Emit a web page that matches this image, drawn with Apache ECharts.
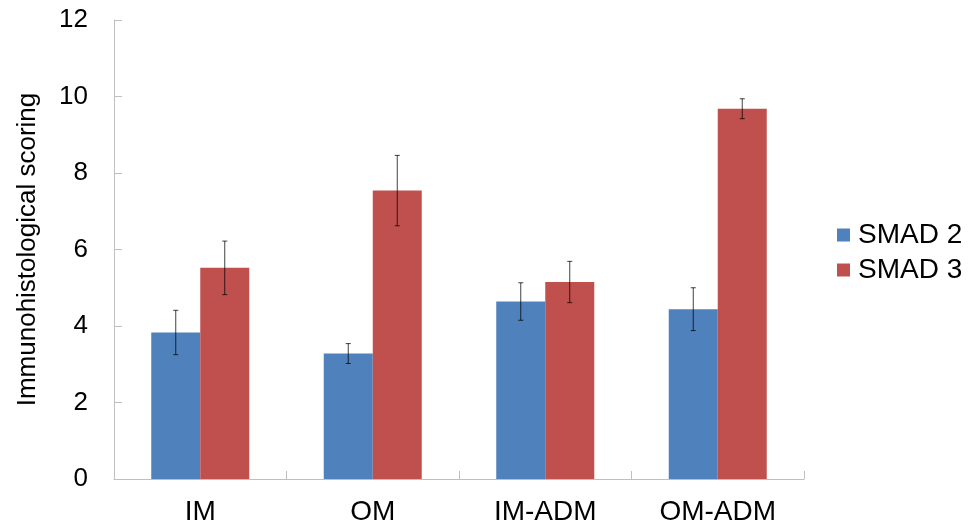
<!DOCTYPE html>
<html>
<head>
<meta charset="utf-8">
<script src="https://cdn.jsdelivr.net/npm/echarts@6/dist/echarts.min.js"></script>
<style>
html,body{margin:0;padding:0;background:#fff;}
#chart{width:974px;height:529px;}
</style>
</head>
<body>
<div id="chart"></div>
<script>
var categories = ['IM', 'OM', 'IM-ADM', 'OM-ADM'];
var seriesNames = ['SMAD 2', 'SMAD 3'];
var smad2 = [3.83, 3.28, 4.64, 4.44];
var smad3 = [5.52, 7.54, 5.15, 9.68];
var smad2Err = [0.58, 0.26, 0.49, 0.56];
var smad3Err = [0.70, 0.92, 0.54, 0.26];
var yTicks = [0, 2, 4, 6, 8, 10, 12];

var FONT = 'Liberation Sans, Arial, sans-serif';
var BAR_W = 49;

function errSeries(vals, errs, side) {
  return {
    type: 'custom',
    silent: true,
    z: 10,
    data: vals.map(function (v, i) { return [i, v, errs[i]]; }),
    renderItem: function (params, api) {
      var i = api.value(0), v = api.value(1), e = api.value(2);
      var top = api.coord([i, v + e]);
      var bot = api.coord([i, v - e]);
      var x = top[0] + side * BAR_W / 2;
      var cap = 2.5;
      var style = { stroke: 'rgba(0,0,0,0.75)', lineWidth: 1 };
      return {
        type: 'group',
        children: [
          { type: 'line', shape: { x1: x, y1: top[1], x2: x, y2: bot[1] }, style: style },
          { type: 'line', shape: { x1: x - cap, y1: top[1], x2: x + cap, y2: top[1] }, style: style },
          { type: 'line', shape: { x1: x - cap, y1: bot[1], x2: x + cap, y2: bot[1] }, style: style }
        ]
      };
    }
  };
}

var chart = echarts.init(document.getElementById('chart'));
chart.setOption({
  backgroundColor: '#fff',
  animation: false,
  grid: { left: 114, right: 170, top: 20, bottom: 50, containLabel: false },
  legend: {
    orient: 'vertical',
    left: 832,
    top: 216,
    itemWidth: 13,
    itemHeight: 13,
    itemGap: 7,
    icon: 'rect',
    data: seriesNames,
    textStyle: { fontFamily: FONT, fontSize: 28, color: '#000', padding: [0, 0, 0, 3] }
  },
  xAxis: {
    type: 'category',
    data: categories,
    axisLine: { lineStyle: { color: '#bfbfbf', width: 1 } },
    axisTick: { show: true, inside: true, length: 8, alignWithLabel: false, lineStyle: { color: '#bfbfbf' } },
    axisLabel: { fontFamily: FONT, fontSize: 28, color: '#000', margin: 19 },
    splitLine: { show: false }
  },
  yAxis: {
    type: 'value',
    min: yTicks[0],
    max: yTicks[yTicks.length - 1],
    interval: yTicks[1] - yTicks[0],
    name: 'Immunohistological scoring',
    nameLocation: 'middle',
    nameGap: 73,
    nameRotate: 90,
    nameTextStyle: { fontFamily: FONT, fontSize: 26, color: '#000' },
    axisLine: { show: true, lineStyle: { color: '#bfbfbf', width: 1 } },
    axisTick: { show: true, inside: true, length: 8, lineStyle: { color: '#bfbfbf' } },
    axisLabel: { fontFamily: FONT, fontSize: 26, color: '#000', margin: 26 },
    splitLine: { show: false }
  },
  series: [
    { name: seriesNames[0], type: 'bar', data: smad2, barWidth: BAR_W, barGap: '0%',
      itemStyle: { color: '#4F81BD' } },
    { name: seriesNames[1], type: 'bar', data: smad3, barWidth: BAR_W, barGap: '0%',
      itemStyle: { color: '#C0504D' } },
    errSeries(smad2, smad2Err, -1),
    errSeries(smad3, smad3Err, 1)
  ]
});
</script>
</body>
</html>
